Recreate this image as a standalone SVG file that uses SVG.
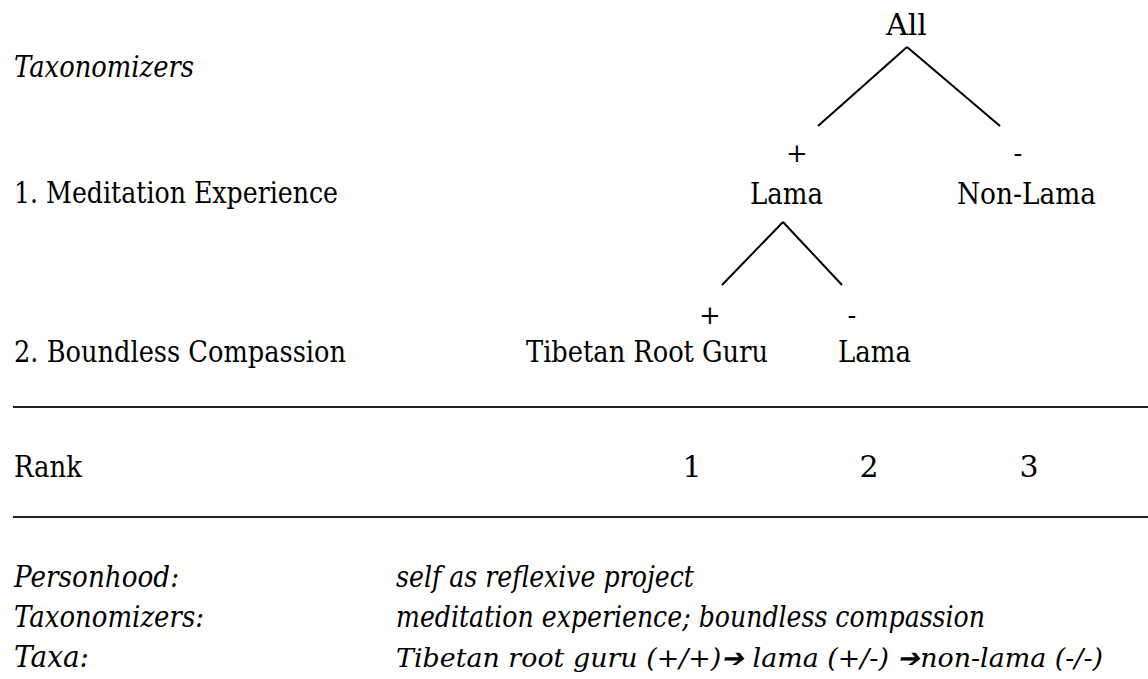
<svg xmlns="http://www.w3.org/2000/svg" width="1148" height="679" viewBox="0 0 1148 679">
<style>
text{font-family:"DejaVu Serif","Liberation Serif",serif;font-size:30px;fill:#000}
.i{font-style:italic}
.m{text-anchor:middle}
.s{font-size:26px}
.t{font-size:26px}
line{stroke:#000;stroke-width:2}
.rule{stroke:#222;stroke-width:2}
</style>
<rect width="1148" height="679" fill="#fff"/>
<g id="labels">
<text class="i" x="14" y="77" textLength="180" lengthAdjust="spacingAndGlyphs">Taxonomizers</text>
<text x="14" y="203" textLength="324" lengthAdjust="spacingAndGlyphs">1. Meditation Experience</text>
<text x="14" y="362" textLength="332" lengthAdjust="spacingAndGlyphs">2. Boundless Compassion</text>
</g>
<g id="node-all"><text x="886" y="35" textLength="41" lengthAdjust="spacingAndGlyphs">All</text></g>
<g id="node-lama1">
<text class="m s" x="797" y="162">+</text>
<text x="750" y="204" textLength="73" lengthAdjust="spacingAndGlyphs">Lama</text>
</g>
<g id="node-nonlama">
<text class="m s" x="1018" y="162">-</text>
<text x="957" y="204" textLength="139" lengthAdjust="spacingAndGlyphs">Non-Lama</text>
</g>
<g id="node-guru">
<text class="m s" x="710" y="324">+</text>
<text x="526" y="362" textLength="242" lengthAdjust="spacingAndGlyphs">Tibetan Root Guru</text>
</g>
<g id="node-lama2">
<text class="m s" x="852" y="324">-</text>
<text x="838" y="362" textLength="73" lengthAdjust="spacingAndGlyphs">Lama</text>
</g>
<g id="connectors">
<line x1="907" y1="47" x2="818" y2="126"/>
<line x1="907" y1="47" x2="1000" y2="126"/>
<line x1="783" y1="222" x2="722" y2="285"/>
<line x1="783" y1="222" x2="842" y2="285"/>
</g>
<g id="rules">
<line class="rule" x1="13" y1="407" x2="1148" y2="407"/>
<line class="rule" x1="13" y1="517" x2="1148" y2="517"/>
</g>
<g id="rank">
<text x="14" y="477" textLength="68" lengthAdjust="spacingAndGlyphs">Rank</text>
<text class="m" x="692" y="477">1</text>
<text class="m" x="869" y="477">2</text>
<text class="m" x="1029" y="477">3</text>
</g>
<g id="summary">
<text class="i" x="14" y="587" textLength="165" lengthAdjust="spacingAndGlyphs">Personhood:</text>
<text class="i" x="14" y="627" textLength="190" lengthAdjust="spacingAndGlyphs">Taxonomizers:</text>
<text class="i" x="14" y="667" textLength="75" lengthAdjust="spacingAndGlyphs">Taxa:</text>
<text class="i" x="396" y="587" textLength="298" lengthAdjust="spacingAndGlyphs">self as reflexive project</text>
<text class="i" x="396" y="627" textLength="589" lengthAdjust="spacingAndGlyphs">meditation experience; boundless compassion</text>
<text class="i t" x="396" y="667" textLength="707" lengthAdjust="spacingAndGlyphs">Tibetan root guru (+/+)➔ lama (+/-) ➔non-lama (-/-)</text>
</g>
</svg>
